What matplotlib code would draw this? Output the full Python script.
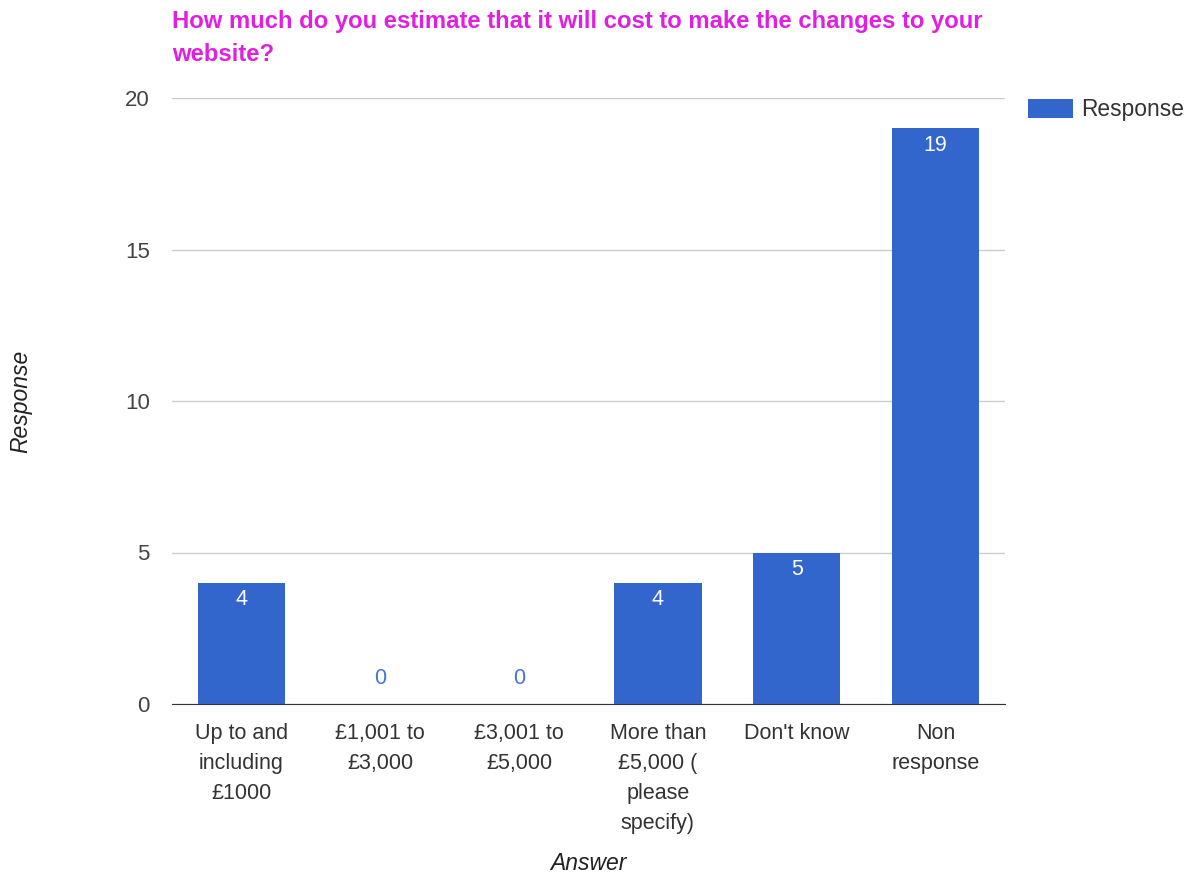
import matplotlib.pyplot as plt

# Survey answers and counts
categories = ["Up to and\nincluding\n£1000", "£1,001 to\n£3,000", "£3,001 to\n£5,000",
              "More than\n£5,000 (\nplease\nspecify)", "Don't know", "Non\nresponse"]
responses = [4, 0, 0, 4, 5, 19]
y_ticks = [0, 5, 10, 15, 20]

bar_color = "#3366cc"
plt.rcParams['font.family'] = ['Liberation Sans', 'DejaVu Sans']

fig = plt.figure(figsize=(11.97, 8.73), dpi=100)
ax = fig.add_axes([172 / 1197, 1 - 704 / 873, 833 / 1197, 606 / 873])

x = list(range(len(categories)))
bars = ax.bar(x, responses, width=0.63, color=bar_color, label="Response", zorder=3)

# value labels: inside the bar top in white, zeros just above the baseline
for xi, v in zip(x, responses):
    if v > 0:
        ax.annotate(str(v), (xi, v), xytext=(0, -4.5), textcoords="offset points",
                    ha="center", va="top", color="white", fontsize=15.5)
    else:
        ax.annotate(str(v), (xi, v), xytext=(0, 11), textcoords="offset points",
                    ha="center", va="bottom", color=bar_color, fontsize=15.5, alpha=0.9)

ax.set_xlim(-0.5, len(categories) - 0.5)
ax.set_ylim(0, 20)
ax.set_yticks(y_ticks)
ax.set_xticks(x)
ax.set_xticklabels(categories, fontsize=15.5, color="#333333", linespacing=1.56, va="top")
ax.tick_params(axis="x", length=0, pad=14)
ax.tick_params(axis="y", length=0, pad=16, labelsize=16, labelcolor="#444444")

ax.grid(axis="y", color="#cccccc", linewidth=1, zorder=0)
for side in ["top", "right", "left"]:
    ax.spines[side].set_visible(False)
ax.spines["bottom"].set_color("#333333")
ax.spines["bottom"].set_zorder(4)

ax.set_xlabel("Answer", fontsize=16.5, style="italic", color="#222222")
ax.xaxis.set_label_coords(0.5, -0.244)
ax.set_ylabel("Response", fontsize=16.5, style="italic", color="#222222")
ax.yaxis.set_label_coords(-0.168, 0.5)

fig.text(172 / 1197, 1 - 10 / 873,
         "How much do you estimate that it will cost to make the changes to your\nwebsite?",
         fontsize=17.2, fontweight="bold", color="#e020e0", ha="left", va="top",
         linespacing=1.55)

ax.legend(loc="upper left", bbox_to_anchor=(1017 / 1197, 1 - 87 / 873),
          bbox_transform=fig.transFigure, frameon=False, fontsize=16.4,
          handlelength=1.95, handleheight=0.95, handletextpad=0.35, borderpad=0,
          labelcolor="#333333")

fig.savefig("out.png", dpi=100)
